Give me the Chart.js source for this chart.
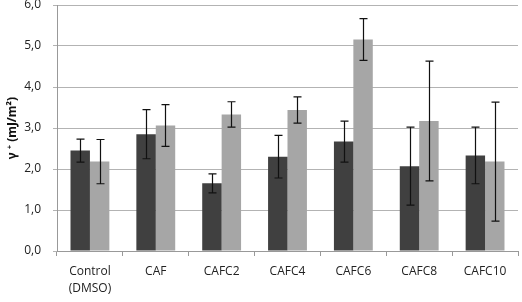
<!DOCTYPE html>
<html>
<head>
<meta charset="utf-8">
<script src="https://cdn.jsdelivr.net/npm/chart.js@4/dist/chart.umd.min.js"></script>
<style>
  html, body { margin: 0; padding: 0; background: #fff; }
  #wrap { width: 522px; height: 302px; }
</style>
</head>
<body>
<div id="wrap"><canvas id="chart"></canvas></div>
<script>
const categories = [["Control", "(DMSO)"], "CAF", "CAFC2", "CAFC4", "CAFC6", "CAFC8", "CAFC10"];
const darkValues = [2.45, 2.85, 1.65, 2.30, 2.67, 2.07, 2.33];
const darkErrors = [0.28, 0.60, 0.23, 0.52, 0.50, 0.95, 0.69];
const lightValues = [2.18, 3.06, 3.33, 3.44, 5.16, 3.17, 2.18];
const lightErrors = [0.54, 0.51, 0.31, 0.32, 0.51, 1.46, 1.45];

const errorBars = {
  id: "errorBars",
  afterDatasetsDraw(chart) {
    const ctx = chart.ctx;
    const y = chart.scales.y;
    ctx.save();
    ctx.strokeStyle = "#111";
    ctx.lineWidth = 1.2;
    chart.data.datasets.forEach((ds, di) => {
      const meta = chart.getDatasetMeta(di);
      meta.data.forEach((bar, i) => {
        const v = ds.data[i], e = ds.errors[i];
        const top = y.getPixelForValue(v + e);
        const bot = y.getPixelForValue(v - e);
        const x = Math.round(bar.x) + 0.5;
        ctx.beginPath();
        ctx.moveTo(x, top); ctx.lineTo(x, bot);
        ctx.moveTo(x - 4, top); ctx.lineTo(x + 4, top);
        ctx.moveTo(x - 4, bot); ctx.lineTo(x + 4, bot);
        ctx.stroke();
      });
    });
    ctx.restore();
  }
};

new Chart(document.getElementById("chart"), {
  type: "bar",
  data: {
    labels: categories,
    datasets: [
      { data: darkValues, errors: darkErrors, backgroundColor: "#404040" },
      { data: lightValues, errors: lightErrors, backgroundColor: "#a6a6a6" }
    ]
  },
  options: {
    responsive: true,
    maintainAspectRatio: false,
    animation: false,
    layout: { padding: { top: 0, right: 4, left: 0, bottom: 0 } },
    datasets: { bar: { categoryPercentage: 0.59, barPercentage: 1.0 } },
    plugins: { legend: { display: false }, tooltip: { enabled: false } },
    scales: {
      x: {
        grid: { offset: true, drawOnChartArea: false, color: "#999", tickLength: 5 },
        border: { color: "#999" },
        ticks: { color: "#222", font: { family: "Open Sans", size: 12, lineHeight: 1.4 }, padding: 7, maxRotation: 0 },
        afterFit(scale) { scale.height = 51; }
      },
      y: {
        min: 0, max: 6,
        grid: { color: "#b3b3b3", tickLength: 4 },
        border: { color: "#999" },
        ticks: {
          stepSize: 1,
          color: "#222",
          padding: 12,
          font: { family: "Open Sans", size: 12 },
          callback: v => v.toFixed(1).replace(".", ",")
        },
        title: {
          display: true,
          text: "γ ⁺ (mJ/m²)",
          color: "#111",
          font: { family: "'Noto Sans', 'DejaVu Sans'", size: 12, weight: "bold" },
          padding: { top: 5, bottom: 0 }
        },
        afterFit(scale) {
          scale.width = 57;
          scale.paddingTop = 5;
        }
      }
    }
  },
  plugins: [errorBars]
});
</script>
</body>
</html>
